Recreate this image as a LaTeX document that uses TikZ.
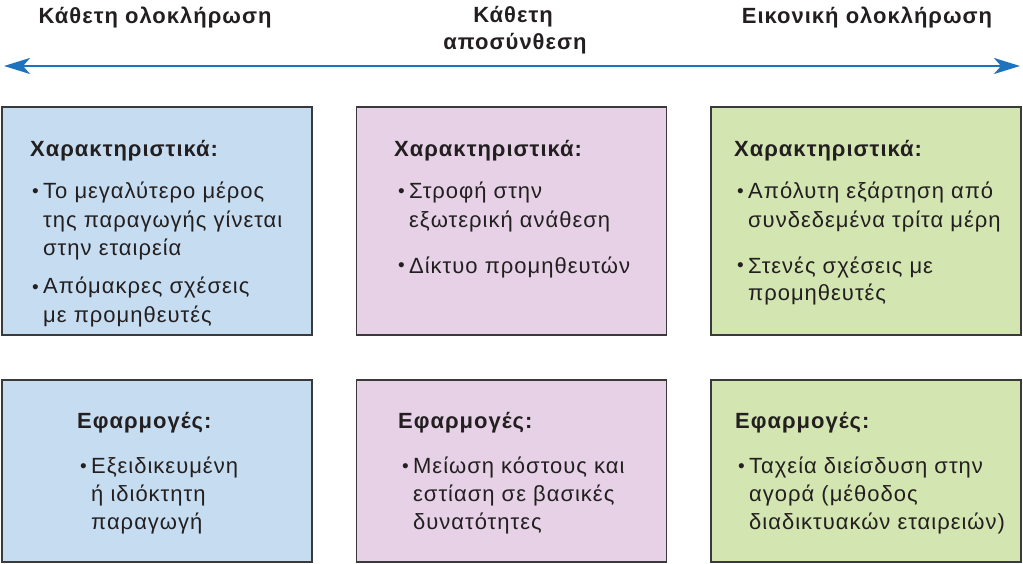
\documentclass[tikz,border=0pt]{standalone}
\usepackage{fontspec}
\setmainfont{Liberation Sans}[LetterSpace=4.5]
\usetikzlibrary{arrows.meta}
\definecolor{bluefill}{HTML}{C6DDF1}
\definecolor{purplefill}{HTML}{E6D1E6}
\definecolor{greenfill}{HTML}{D3E5B1}
\definecolor{bordergray}{HTML}{3A3A3A}
\definecolor{arrowblue}{HTML}{1E73BE}
\definecolor{txtgray}{HTML}{231F20}
\tikzset{
  panel/.style={draw=bordergray, line width=1.3pt, minimum width=310pt, inner sep=0pt},
  toppanel/.style={panel, minimum height=228pt},
  botpanel/.style={panel, minimum height=182pt},
  txt/.style={anchor=base west, inner sep=0pt, text=txtgray, font=\fontsize{22}{26}\selectfont},
  hd/.style={txt, font=\fontsize{22}{26}\selectfont\bfseries},
  ttl/.style={anchor=base, inner sep=0pt, text=txtgray, font=\fontsize{22}{26}\selectfont\bfseries},
  bul/.style={txt, font=\fontsize{19}{26}\selectfont}
}
\begin{document}
\begin{tikzpicture}[x=1pt,y=-1pt]
\useasboundingbox (0,0) rectangle (1023,564);
% titles
\node[ttl] (t1) at (155,24) {Κάθετη ολοκλήρωση};
\node[ttl] (t2a) at (513,23) {Κάθετη};
\node[ttl] (t2b) at (515,50) {αποσύνθεση};
\node[ttl] (t3) at (867,24) {Εικονική ολοκλήρωση};
% arrow
\coordinate (aL) at (4,66);
\coordinate (aR) at (1020,66);
\draw[arrowblue, line width=2.6pt, {Stealth[length=26pt,width=16pt,inset=7pt]}-{Stealth[length=26pt,width=16pt,inset=7pt]}] (aL) -- (aR);
% panels
\node[toppanel, fill=bluefill] (p1) at (157,221) {};
\node[toppanel, fill=purplefill] (p2) at (511.5,221) {};
\node[toppanel, fill=greenfill] (p3) at (866,221) {};
\node[botpanel, fill=bluefill] (q1) at (157,471) {};
\node[botpanel, fill=purplefill] (q2) at (511.5,471) {};
\node[botpanel, fill=greenfill] (q3) at (866,471) {};
% panel 1 top
\node[hd] (h1) at (30,157) {Χαρακτηριστικά:};
\node[bul] (b11) at (32,198) {•};
\node[txt] (l11) at (43,199) {Το μεγαλύτερο μέρος};
\node[txt] (l12) at (43,228) {της παραγωγής γίνεται};
\node[txt] (l13) at (43,256) {στην εταιρεία};
\node[bul] (b12) at (32,293) {•};
\node[txt] (l14) at (43,294) {Απόμακρες σχέσεις};
\node[txt] (l15) at (43,322) {με προμηθευτές};
% panel 2 top
\node[hd] (h2) at (394,157) {Χαρακτηριστικά:};
\node[bul] (b21) at (398,198) {•};
\node[txt] (l21) at (409,199) {Στροφή στην};
\node[txt] (l22) at (409,228) {εξωτερική ανάθεση};
\node[bul] (b22) at (398,272) {•};
\node[txt] (l23) at (409,273) {Δίκτυο προμηθευτών};
% panel 3 top
\node[hd] (h3) at (734,157) {Χαρακτηριστικά:};
\node[bul] (b31) at (737,198) {•};
\node[txt] (l31) at (748,199) {Απόλυτη εξάρτηση από};
\node[txt] (l32) at (748,228) {συνδεδεμένα τρίτα μέρη};
\node[bul] (b32) at (737,272) {•};
\node[txt] (l33) at (748,273) {Στενές σχέσεις με};
\node[txt] (l34) at (748,301) {προμηθευτές};
% panel 1 bottom
\node[hd] (g1) at (77,428) {Εφαρμογές:};
\node[bul] (c11) at (80,472) {•};
\node[txt] (m11) at (91,473) {Εξειδικευμένη};
\node[txt] (m12) at (91,501) {ή ιδιόκτητη};
\node[txt] (m13) at (91,529) {παραγωγή};
% panel 2 bottom
\node[hd] (g2) at (398,428) {Εφαρμογές:};
\node[bul] (c21) at (402,472) {•};
\node[txt] (m21) at (413,473) {Μείωση κόστους και};
\node[txt] (m22) at (413,501) {εστίαση σε βασικές};
\node[txt] (m23) at (413,529) {δυνατότητες};
% panel 3 bottom
\node[hd] (g3) at (735,428) {Εφαρμογές:};
\node[bul] (c31) at (738,472) {•};
\node[txt] (m31) at (749,473) {Ταχεία διείσδυση στην};
\node[txt] (m32) at (749,501) {αγορά (μέθοδος};
\node[txt] (m33) at (749,529) {διαδικτυακών εταιρειών)};
\end{tikzpicture}
\end{document}
